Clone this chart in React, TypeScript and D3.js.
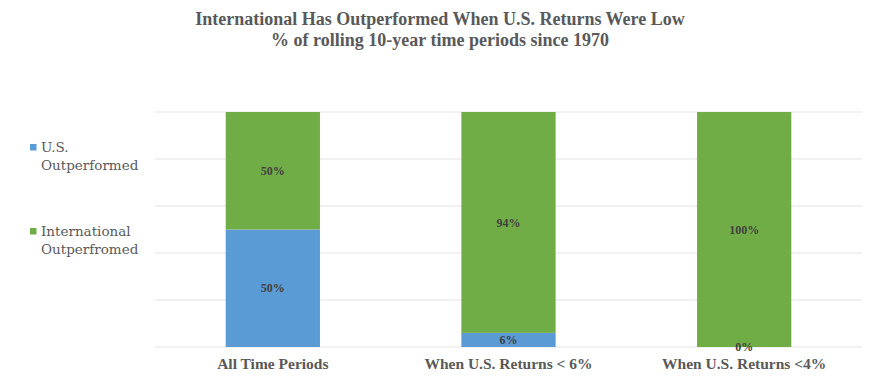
import React from "react";
import * as d3 from "d3";

const categories = ["All Time Periods", "When U.S. Returns < 6%", "When U.S. Returns <4%"];
const usValues = [50, 6, 0];
const intlValues = [50, 94, 100];
const seriesNames = ["U.S. Outperformed", "International Outperfromed"];
const yTicks = [0, 20, 40, 60, 80, 100];

const W = 880;
const H = 390;
const plot = { left: 155, right: 862, top: 112, bottom: 347 };
const BLUE = "#5B9BD5";
const GREEN = "#70AD47";
const FONT = "'Liberation Serif', serif";
const LEGEND_FONT = "'DejaVu Serif', serif";

export default function App() {
  const x = d3
    .scaleBand<string>()
    .domain(categories)
    .range([plot.left, plot.right])
    .paddingInner(0.6)
    .paddingOuter(0.3);
  const y = d3.scaleLinear().domain([0, 100]).range([plot.bottom, plot.top]);

  const stackData = categories.map((c, i) => ({ cat: c, us: usValues[i], intl: intlValues[i] }));
  const stacked = d3.stack<any>().keys(["us", "intl"])(stackData);
  const colors = [BLUE, GREEN];

  return (
    <div style={{ margin: -8 }}>
      <svg width={W} height={H} style={{ display: "block" }}>
        <rect x={0} y={0} width={W} height={H} fill="#fff" />
        <rect x={1} y={1} width={W - 3} height={H - 3} fill="none" stroke="#d9d9d9" strokeWidth={1.5} />
        <text x={440} y={25} textAnchor="middle" fontFamily={FONT} fontSize={18} fontWeight="bold" fill="#595959">
          International Has Outperformed When U.S. Returns Were Low
        </text>
        <text x={440} y={46} textAnchor="middle" fontFamily={FONT} fontSize={18} fontWeight="bold" fill="#595959">
          % of rolling 10-year time periods since 1970
        </text>
        {yTicks.map((t) => (
          <line key={t} x1={plot.left} x2={plot.right} y1={y(t)} y2={y(t)} stroke="#e3e3e3" strokeWidth={1} />
        ))}
        {stacked.map((layer, li) =>
          layer.map((d, i) => (
            <rect
              key={`${li}-${i}`}
              x={x(categories[i])!}
              width={x.bandwidth()}
              y={y(d[1])}
              height={y(d[0]) - y(d[1])}
              fill={colors[li]}
            />
          ))
        )}
        {stacked.map((layer, li) =>
          layer.map((d, i) => (
            <text
              key={`l-${li}-${i}`}
              x={x(categories[i])! + x.bandwidth() / 2}
              y={(y(d[0]) + y(d[1])) / 2}
              dy="0.35em"
              textAnchor="middle"
              fontFamily={FONT}
              fontSize={12}
              fontWeight="bold"
              fill="#404040"
            >
              {`${d[1] - d[0]}%`}
            </text>
          ))
        )}
        {categories.map((c) => (
          <text
            key={c}
            x={x(c)! + x.bandwidth() / 2}
            y={369}
            textAnchor="middle"
            fontFamily={FONT}
            fontSize={15.5}
            fontWeight="bold"
            fill="#595959"
          >
            {c}
          </text>
        ))}
        {seriesNames.map((name, i) => {
          const parts = name.split(" ");
          const ly = 152 + i * 84;
          return (
            <g key={name}>
              <rect x={30} y={ly - 8} width={6.5} height={6.5} fill={colors[i]} />
              <text x={41} y={ly} fontFamily={LEGEND_FONT} fontSize={13.5} fill="#595959">
                <tspan x={41}>{parts[0]}</tspan>
                <tspan x={41} dy={18}>{parts[1]}</tspan>
              </text>
            </g>
          );
        })}
      </svg>
    </div>
  );
}
